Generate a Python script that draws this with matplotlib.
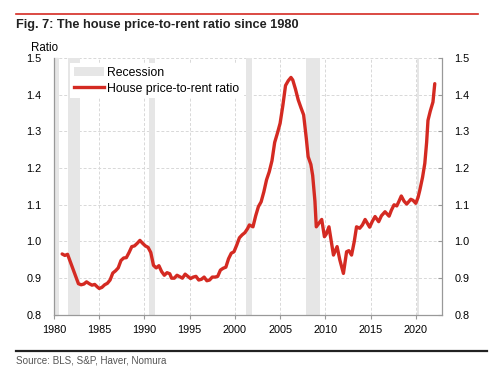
import matplotlib
matplotlib.use('Agg')
import matplotlib.pyplot as plt
from matplotlib.patches import Patch
from matplotlib.lines import Line2D

plt.rcParams['font.family'] = ['Liberation Sans', 'DejaVu Sans']

# house price-to-rent ratio
years = [1980.9, 1981.2, 1981.5, 1981.8, 1982.1, 1982.4, 1982.7, 1983.0, 1983.3, 1983.6,
         1983.9, 1984.2, 1984.5, 1984.8, 1985.0, 1985.3, 1985.6, 1985.9, 1986.2, 1986.5,
         1986.8, 1987.1, 1987.4, 1987.7, 1988.0, 1988.3, 1988.6, 1988.9, 1989.2, 1989.5,
         1989.8, 1990.1, 1990.4, 1990.7, 1991.0, 1991.3, 1991.6, 1991.9, 1992.2, 1992.5,
         1992.8, 1993.0, 1993.3, 1993.6, 1993.9, 1994.2, 1994.5, 1994.8, 1995.1, 1995.4,
         1995.7, 1996.0, 1996.3, 1996.6, 1996.9, 1997.2, 1997.5, 1997.8, 1998.1, 1998.4,
         1998.7, 1999.0, 1999.3, 1999.6, 1999.9, 2000.2, 2000.5, 2000.8, 2001.1, 2001.4,
         2001.6, 2002.0, 2002.3, 2002.6, 2002.9, 2003.2, 2003.5, 2003.8, 2004.1, 2004.4,
         2004.7, 2005.0, 2005.3, 2005.6, 2005.9, 2006.2, 2006.4, 2006.7, 2007.0, 2007.3,
         2007.6, 2007.9, 2008.1, 2008.4, 2008.6, 2008.85, 2009.0, 2009.3, 2009.6, 2009.9,
         2010.1, 2010.4, 2010.9, 2011.3, 2011.6, 2012.0, 2012.35, 2012.6, 2012.9, 2013.2,
         2013.45, 2013.8, 2014.1, 2014.4, 2014.9, 2015.2, 2015.5, 2015.9, 2016.2, 2016.6,
         2017.05, 2017.3, 2017.6, 2017.9, 2018.15, 2018.4, 2018.7, 2019.0, 2019.45, 2019.7,
         2020.0, 2020.25, 2020.45, 2020.75, 2021.0, 2021.2, 2021.35, 2021.6, 2021.9, 2022.1]
ratio = [0.966, 0.962, 0.965, 0.945, 0.925, 0.905, 0.885, 0.882, 0.884, 0.890,
         0.885, 0.881, 0.883, 0.876, 0.872, 0.875, 0.882, 0.886, 0.895, 0.914,
         0.920, 0.928, 0.948, 0.955, 0.956, 0.970, 0.986, 0.988, 0.995, 1.003,
         0.995, 0.988, 0.984, 0.970, 0.935, 0.928, 0.934, 0.918, 0.908, 0.915,
         0.912, 0.900, 0.900, 0.908, 0.904, 0.900, 0.911, 0.905, 0.899, 0.903,
         0.905, 0.895, 0.897, 0.903, 0.893, 0.895, 0.903, 0.903, 0.905, 0.922,
         0.927, 0.930, 0.953, 0.968, 0.972, 0.990, 1.010, 1.018, 1.024, 1.035,
         1.045, 1.040, 1.070, 1.095, 1.108, 1.135, 1.168, 1.190, 1.220, 1.270,
         1.295, 1.322, 1.370, 1.425, 1.438, 1.447, 1.440, 1.415, 1.386, 1.365,
         1.345, 1.280, 1.231, 1.210, 1.180, 1.110, 1.040, 1.050, 1.060, 1.013,
         1.020, 1.040, 0.963, 0.986, 0.950, 0.913, 0.972, 0.975, 0.963, 1.000,
         1.040, 1.036, 1.045, 1.060, 1.039, 1.055, 1.068, 1.054, 1.070, 1.081,
         1.069, 1.085, 1.100, 1.097, 1.110, 1.124, 1.110, 1.102, 1.115, 1.112,
         1.104, 1.120, 1.140, 1.175, 1.213, 1.270, 1.330, 1.355, 1.380, 1.430]

# recession periods (start, end)
rec_start = [1980.0, 1981.55, 1990.55, 2001.2, 2007.9, 2020.1]
rec_end = [1980.5, 1982.85, 1991.2, 2001.9, 2009.45, 2020.35]

xticks = [1980, 1985, 1990, 1995, 2000, 2005, 2010, 2015, 2020]
yticks = [0.8, 0.9, 1.0, 1.1, 1.2, 1.3, 1.4, 1.5]

red = '#d42a22'
grey = '#999999'

fig = plt.figure(figsize=(5, 3.67), dpi=100)
ax = fig.add_axes([0.108, 0.142, 0.776, 0.700])

for s, e in zip(rec_start, rec_end):
    ax.axvspan(s, e, color='#e6e6e6', lw=0, zorder=1)

ax.plot(years, ratio, color=red, lw=2.4, zorder=3, solid_capstyle='round')

ax.set_xlim(1980, 2022.9)
ax.set_ylim(0.8, 1.5)
ax.set_xticks(xticks)
ax.set_yticks(yticks)
ax.set_yticklabels(['%.1f' % v for v in yticks])
ax.grid(True, color='#d8d8d8', ls=(0, (3, 2)), lw=0.7, zorder=0)
ax.set_axisbelow(True)

for side in ['left', 'right', 'bottom']:
    ax.spines[side].set_color(grey)
    ax.spines[side].set_linewidth(0.9)
ax.spines['top'].set_visible(False)

ax.tick_params(axis='x', direction='out', length=3, color=grey, labelsize=7.8, pad=4)
ax.tick_params(axis='y', direction='in', length=3, color=grey, labelsize=7.8, pad=9,
               right=True, labelright=True)

ax.text(-0.059, 1.04, 'Ratio', transform=ax.transAxes, fontsize=8.3, ha='left', va='center')

handles = [Patch(facecolor='#e6e6e6', edgecolor='none'),
           Line2D([0], [0], color=red, lw=2.4)]
leg = ax.legend(handles, ['Recession', 'House price-to-rent ratio'], loc='upper left',
                bbox_to_anchor=(0.035, 0.99), fontsize=8.8, frameon=True, fancybox=False,
                handlelength=2.5, handletextpad=0.25, labelspacing=0.32, borderpad=0.3,
                borderaxespad=0.2)
leg.get_frame().set_facecolor('white')
leg.get_frame().set_edgecolor('none')
leg.get_frame().set_alpha(1)

# title, rules and source
fig.text(0.032, 0.932, 'Fig. 7: The house price-to-rent ratio since 1980', fontsize=9.2,
         fontweight='bold', ha='left', va='center', color='#222222')
fig.add_artist(Line2D([0.032, 0.955], [0.962, 0.962], color=red, lw=1.2))
fig.add_artist(Line2D([0.032, 0.974], [0.044, 0.044], color='#222222', lw=1.6))
fig.text(0.032, 0.019, 'Source: BLS, S&P, Haver, Nomura', fontsize=7.1, color='#555555',
         ha='left', va='center')

fig.savefig('out.png', dpi=100)
